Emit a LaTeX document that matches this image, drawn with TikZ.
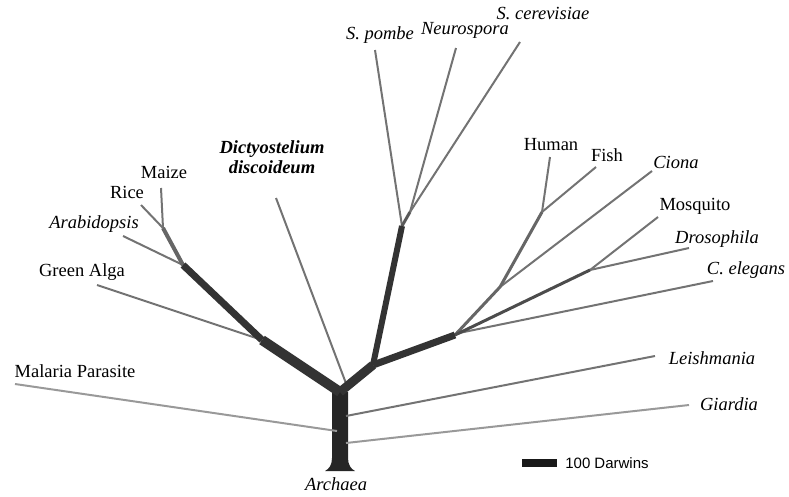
\documentclass[tikz,border=0pt]{standalone}
\usepackage{fontspec}
\setmainfont{Liberation Serif}
\setsansfont{Liberation Sans}
\usepackage{tikz}

\begin{document}
\begin{tikzpicture}[x=1pt,y=-1pt,line join=round,
	every node/.style={font=\fontsize{18.5}{20}\selectfont},
	stem/.style={draw=black!80,line width=#1},
	twig/.style={draw=black!55,line width=2pt},
	pale/.style={draw=black!40,line width=2pt},
	sp/.style={font=\fontsize{18.5}{20}\selectfont\itshape}]
	\useasboundingbox (0,0) rectangle (789,496);
	% trunk
	\fill[black!85] (332,392) -- (348,392) -- (348,458) .. controls (348,465) and (351,469) .. (355,471) -- (325,471) .. controls (329,469) and (332,465) .. (332,458) -- cycle;
	\node[sp] (arch) at (336,484) {Archaea};
	% junctions
	\coordinate (root) at (340,392);
	\coordinate (alga) at (262,340);
	\coordinate (arab) at (183,265);
	\coordinate (grass) at (163,228);
	\coordinate (opis) at (373,365);
	\coordinate (fung) at (402,226);
	\coordinate (asco) at (410,212);
	\coordinate (anim) at (455,335);
	\coordinate (prot) at (590,270);
	\coordinate (deut) at (500,287);
	\coordinate (vert) at (542,212);
	% tips
	\coordinate (tmaize) at (161,188);
	\coordinate (trice) at (141,205);
	\coordinate (tarab) at (123,236);
	\coordinate (talga) at (97,285);
	\coordinate (tdict) at (276,198);
	\coordinate (tpombe) at (375,50);
	\coordinate (tneuro) at (456,48);
	\coordinate (tcere) at (520,42);
	\coordinate (thuman) at (550,157);
	\coordinate (tfish) at (596,167);
	\coordinate (tciona) at (652,171);
	\coordinate (tmosq) at (658,217);
	\coordinate (tdros) at (689,248);
	\coordinate (tcel) at (713,281);
	\coordinate (tleish) at (655,356);
	\coordinate (tgiar) at (689,405);
	\coordinate (tmal) at (15,384);
	% labels
	\node (maize) at (164,172) {Maize};
	\node (rice) at (127,192) {Rice};
	\node[sp] (arabl) at (94,224) {Arabidopsis};
	\node (algal) at (82,272) {Green Alga};
	\node[font=\fontsize{18.5}{20}\selectfont\bfseries\itshape,align=center] (dict) at (272,157) {Dictyostelium\\discoideum};
	\node[sp] (pombe) at (380,35) {S. pombe};
	\node[sp] (neuro) at (465,30) {Neurospora};
	\node[sp] (cere) at (543,14) {S. cerevisiae};
	\node (human) at (551,145) {Human};
	\node (fish) at (607,155) {Fish};
	\node[sp] (ciona) at (676,162) {Ciona};
	\node (mosq) at (695,206) {Mosquito};
	\node[sp] (dros) at (717,239) {Drosophila};
	\node[sp] (cel) at (746,270) {C. elegans};
	\node[sp] (leish) at (712,358) {Leishmania};
	\node[sp] (giar) at (729,404) {Giardia};
	\node (mal) at (75,371) {Malaria Parasite};
	% leaves
	\draw[pale] (337,431) -- (tmal);
	\draw[pale] (346,443) -- (tgiar);
	\draw[twig] (346,416) -- (tleish);
	\draw[twig] (347,386) -- (tdict);
	\draw[twig] (grass) -- (tmaize);
	\draw[twig] (grass) -- (trice);
	\draw[twig] (arab) -- (tarab);
	\draw[twig] (alga) -- (talga);
	\draw[twig] (fung) -- (tpombe);
	\draw[twig] (asco) -- (tneuro);
	\draw[twig] (asco) -- (tcere);
	\draw[twig] (vert) -- (thuman);
	\draw[twig] (vert) -- (tfish);
	\draw[twig] (deut) -- (tciona);
	\draw[twig] (prot) -- (tmosq);
	\draw[twig] (prot) -- (tdros);
	\draw[twig] (459,333) -- (tcel);
	% inner branches
	\draw[stem=3pt,draw=black!60] (anim) -- (deut) -- (vert);
	\draw[stem=3pt,draw=black!70] (anim) -- (prot);
	\draw[stem=3pt,draw=black!65] (fung) -- (asco);
	\draw[stem=4pt,draw=black!60] (arab) -- (grass);
	\draw[stem=7pt] (alga) -- (arab);
	\draw[stem=10pt] (root) -- (alga);
	\draw[stem=6pt] (opis) -- (fung);
	\draw[stem=7pt] (opis) -- (anim);
	\draw[stem=9pt] (root) -- (opis);
	% scale bar
	\fill[black!90] (522,459) rectangle (557,467);
	\node[font=\fontsize{15}{17}\selectfont\sffamily] (bar) at (607,463) {100 Darwins};
\end{tikzpicture}
\end{document}
